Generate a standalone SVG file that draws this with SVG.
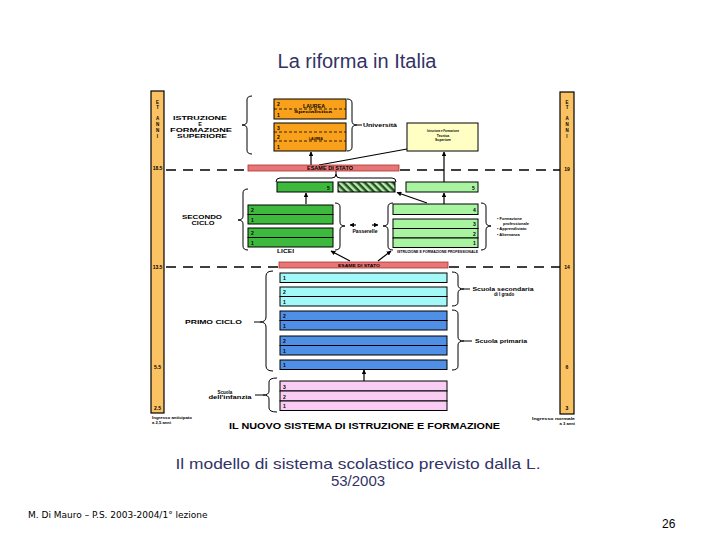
<svg xmlns="http://www.w3.org/2000/svg" width="720" height="540" viewBox="0 0 720 540">
<defs>
<style>
.t{font-family:"Liberation Sans",Arial,sans-serif;font-weight:bold;fill:#000}
.n{font-size:5px}
.s{font-size:4.5px}
.bx{stroke:#000;stroke-width:1}
.dash{stroke:#000;stroke-width:1.6;stroke-dasharray:10 7;fill:none}
.br{fill:none;stroke:#000;stroke-width:1}
.ln{stroke:#000;stroke-width:1.1;fill:none}
.arr{stroke:#000;stroke-width:1.2;fill:none;marker-end:url(#ah)}
.idl{stroke:#000;stroke-width:0.8;stroke-dasharray:3 2}
.or{fill:#F9A11B}
.dg{fill:#3DBA3D}
.lg{fill:#A8F4A0}
.cy{fill:#A3F8F8}
.bl{fill:#4F90E6}
.pk{fill:#F9CDF3}
.rd{fill:#E87676;stroke:#A33;stroke-width:0.8}
.bar{fill:#FBC263;stroke:#000;stroke-width:1.2}
.h{font-family:"Liberation Sans",Arial,sans-serif;fill:#333366}
</style>
<marker id="ah" viewBox="0 0 10 10" refX="9" refY="5" markerWidth="4" markerHeight="4" orient="auto"><path d="M0 0 L10 5 L0 10 z" fill="#000"/></marker>
<pattern id="hatch" width="5" height="5" patternUnits="userSpaceOnUse" patternTransform="rotate(-45)"><rect width="5" height="5" fill="#2B4F2B"/><rect width="2.5" height="5" fill="#B4F0A8"/></pattern>
</defs>
<rect width="720" height="540" fill="#fff"/>

<text class="h" x="357" y="68" font-size="20" text-anchor="middle">La riforma in Italia</text>

<!-- age bars -->
<g id="bar-left">
<rect class="bar" x="151" y="91" width="13" height="322"/>
<text class="t" font-size="4.5" text-anchor="middle"><tspan x="157.5" y="104">E</tspan><tspan x="157.5" y="109">T</tspan><tspan x="157.5" y="120">A</tspan><tspan x="157.5" y="126">N</tspan><tspan x="157.5" y="132">N</tspan><tspan x="157.5" y="138">I</tspan></text>
<text class="t n" x="157.5" y="170" text-anchor="middle">18.5</text>
<text class="t n" x="157.5" y="269" text-anchor="middle">13.5</text>
<text class="t n" x="157.5" y="369" text-anchor="middle">5.5</text>
<text class="t n" x="157.5" y="410" text-anchor="middle">2.5</text>
</g>
<g id="bar-right">
<rect class="bar" x="560" y="92" width="14" height="322"/>
<text class="t" font-size="4.5" text-anchor="middle"><tspan x="567" y="104">E</tspan><tspan x="567" y="109">T</tspan><tspan x="567" y="120">A</tspan><tspan x="567" y="126">N</tspan><tspan x="567" y="132">N</tspan><tspan x="567" y="138">I</tspan></text>
<text class="t n" x="567" y="171" text-anchor="middle">19</text>
<text class="t n" x="567" y="269" text-anchor="middle">14</text>
<text class="t n" x="567" y="369" text-anchor="middle">6</text>
<text class="t n" x="567" y="410" text-anchor="middle">3</text>
</g>

<!-- connectors -->
<g id="connectors">
<line class="dash" x1="166" y1="170" x2="248" y2="170"/>
<line class="dash" x1="400" y1="170" x2="560" y2="170"/>
<line class="dash" x1="166" y1="267" x2="279" y2="267"/>
<line class="dash" x1="449" y1="267" x2="560" y2="267"/>
<path class="br" d="M252 96 Q247 96 247 100 L247 121 Q247 125 242 125 Q247 125 247 129 L247 150 Q247 154 252 154"/>
<path class="br" d="M347 99 Q352 99 352 103 L352 121 Q352 125 357 125 Q352 125 352 129 L352 147 Q352 151 347 151 M357 125 L362 125"/>
<path class="br" d="M276 182 Q276 178 280 178 L332 178 Q336 178 336 174 Q336 178 340 178 L392 178 Q396 178 396 182 M336 174 L336 171"/>
<path class="br" d="M248 189 Q243 189 243 193 L243 216 Q243 220 238 220 Q243 220 243 224 L243 246 Q243 250 248 250"/>
<path class="br" d="M335 203 Q340 203 340 207 L340 222 Q340 226 345 226 Q340 226 340 230 L340 246 Q340 250 335 250"/>
<path class="br" d="M393 203 Q388 203 388 207 L388 222 Q388 226 383 226 Q388 226 388 230 L388 246 Q388 250 393 250"/>
<path class="br" d="M481 203 Q486 203 486 207 L486 222 Q486 226 491 226 Q486 226 486 230 L486 246 Q486 250 481 250"/>
<path class="br" d="M273 271 Q266 271 266 276 L266 317 Q266 322 260 322 Q266 322 266 327 L266 366 Q266 371 273 371 M260 322 L254 322"/>
<path class="br" d="M452 272 Q458 272 458 276 L458 285 Q458 289 464 289 Q458 289 458 293 L458 302 Q458 306 452 306 M464 289 L470 289"/>
<path class="br" d="M452 310 Q458 310 458 314 L458 337 Q458 341 464 341 Q458 341 458 345 L458 366 Q458 370 452 370 M464 341 L472 341"/>
<path class="br" d="M277 378 Q269 378 269 382 L269 391 Q269 395 263 395 Q269 395 269 399 L269 408 Q269 412 277 412 M263 395 L255 395"/>
<line class="arr" x1="311" y1="165" x2="311" y2="152"/>
<line class="ln" x1="319" y1="165" x2="407" y2="149"/>
<line class="arr" x1="444" y1="182" x2="444" y2="152"/>
<line class="arr" x1="306" y1="204" x2="306" y2="193"/>
<line class="arr" x1="444" y1="204" x2="444" y2="193"/>
<line class="arr" x1="427" y1="203" x2="397" y2="192.5"/>
<line class="arr" x1="350" y1="261" x2="331" y2="251"/>
<line class="arr" x1="378" y1="261" x2="391" y2="251"/>
<line class="arr" x1="364" y1="381" x2="364" y2="370"/>
<line class="arr" x1="356" y1="225" x2="350" y2="225"/>
<line class="arr" x1="372" y1="225" x2="378" y2="225"/>
</g>

<!-- superiore -->
<g id="laurea-specialistica">
<rect class="bx or" x="274" y="99" width="72" height="20"/>
<line class="idl" x1="274" y1="109" x2="346" y2="109"/>
<text class="t n" x="277" y="106">2</text>
<text class="t n" x="277" y="117">1</text>
<text class="t" font-size="4.5" x="314" y="107.5" text-anchor="middle" textLength="22" lengthAdjust="spacingAndGlyphs">LAUREA</text>
<text class="t" font-size="3.3" x="313" y="113" text-anchor="middle" textLength="38" lengthAdjust="spacingAndGlyphs">Specialistica</text>
</g>
<g id="laurea">
<rect class="bx or" x="274" y="123" width="72" height="28"/>
<line class="idl" x1="274" y1="132" x2="346" y2="132"/>
<line class="idl" x1="274" y1="141" x2="346" y2="141"/>
<text class="t n" x="277" y="130">3</text>
<text class="t n" x="277" y="139">2</text>
<text class="t n" x="277" y="149">1</text>
<text class="t" font-size="4" x="316" y="139.5" text-anchor="middle" textLength="14" lengthAdjust="spacingAndGlyphs">LAUREA</text>
</g>
<g id="universita"><text class="t" font-size="5" x="363" y="127" textLength="34" lengthAdjust="spacingAndGlyphs">Università</text></g>
<g id="ifts">
<rect class="bx" x="407" y="123" width="71" height="28" fill="#FFFFC4"/>
<text class="t" font-size="3.4" text-anchor="middle"><tspan x="443" y="132" textLength="32" lengthAdjust="spacingAndGlyphs">Istruzione e Formazione</tspan><tspan x="443" y="136.5">Tecnica</tspan><tspan x="443" y="141">Superiore</tspan></text>
</g>
<g id="lab-superiore">
<text class="t" font-size="5.5" text-anchor="middle"><tspan x="200" y="120" textLength="54" lengthAdjust="spacingAndGlyphs">ISTRUZIONE</tspan><tspan x="200" y="126">E</tspan><tspan x="201" y="132" textLength="62" lengthAdjust="spacingAndGlyphs">FORMAZIONE</tspan><tspan x="202" y="137.5" textLength="50" lengthAdjust="spacingAndGlyphs">SUPERIORE</tspan></text>
</g>
<g id="esame-stato-1">
<rect class="rd" x="248" y="165" width="151" height="6"/>
<text class="t" font-size="4.5" x="330" y="169.8" text-anchor="middle" fill="#400" textLength="46" lengthAdjust="spacingAndGlyphs">ESAME DI STATO</text>
</g>

<!-- secondo ciclo -->
<g id="liceo-5"><rect class="bx dg" x="277" y="182" width="56" height="10"/><text class="t n" x="327" y="189.5">5</text></g>
<g id="hatched"><rect class="bx" x="338" y="182" width="57" height="10" fill="url(#hatch)"/></g>
<g id="ifp-5"><rect class="bx lg" x="406" y="182" width="72" height="10"/><text class="t n" x="472" y="189.5">5</text></g>
<g id="licei">
<rect class="bx dg" x="248" y="205" width="85" height="9.5"/>
<rect class="bx dg" x="248" y="214.5" width="85" height="9.5"/>
<rect class="bx dg" x="248" y="228" width="85" height="9.5"/>
<rect class="bx dg" x="248" y="237.5" width="85" height="9.5"/>
<text class="t n" x="251" y="212">2</text>
<text class="t n" x="251" y="221.5">1</text>
<text class="t n" x="251" y="235">2</text>
<text class="t n" x="251" y="244.5">1</text>
<text class="t" font-size="4.5" x="277" y="253" textLength="17" lengthAdjust="spacingAndGlyphs">LICEI</text>
</g>
<g id="ifp">
<rect class="bx lg" x="393" y="204" width="85" height="10.5"/>
<rect class="bx lg" x="393" y="219" width="85" height="9.5"/>
<rect class="bx lg" x="393" y="228.5" width="85" height="9.5"/>
<rect class="bx lg" x="393" y="238" width="85" height="9.5"/>
<text class="t n" x="473" y="211.5">4</text>
<text class="t n" x="473" y="226">3</text>
<text class="t n" x="473" y="235.5">2</text>
<text class="t n" x="473" y="245">1</text>
<text class="t" font-size="4" x="397" y="253" textLength="81" lengthAdjust="spacingAndGlyphs">ISTRUZIONE E FORMAZIONE PROFESSIONALE</text>
</g>
<g id="passerelle"><text class="t" font-size="4.5" x="365" y="232.5" text-anchor="middle" textLength="25" lengthAdjust="spacingAndGlyphs">Passerelle</text></g>
<g id="lab-secondo">
<text class="t" font-size="5.5" text-anchor="middle"><tspan x="202" y="219" textLength="40" lengthAdjust="spacingAndGlyphs">SECONDO</tspan><tspan x="203" y="224.5" textLength="23" lengthAdjust="spacingAndGlyphs">CICLO</tspan></text>
</g>
<g id="lab-formazione">
<text class="t" font-size="4"><tspan x="497" y="220">• Formazione</tspan><tspan x="503" y="224.5">professionale</tspan><tspan x="497" y="230">• Apprendistato</tspan><tspan x="497" y="236">• Alternanza</tspan></text>
</g>
<g id="esame-stato-2">
<rect class="rd" x="279" y="262" width="169" height="6"/>
<text class="t" font-size="4" x="359" y="266.6" text-anchor="middle" fill="#400" textLength="42" lengthAdjust="spacingAndGlyphs">ESAME DI STATO</text>
</g>

<!-- primo ciclo -->
<g id="secondaria">
<rect class="bx cy" x="280" y="273" width="167" height="9.5"/>
<rect class="bx cy" x="280" y="287" width="167" height="9.5"/>
<rect class="bx cy" x="280" y="296.5" width="167" height="9.5"/>
<text class="t n" x="283" y="280">1</text>
<text class="t n" x="283" y="294">2</text>
<text class="t n" x="283" y="303.5">1</text>
</g>
<g id="primaria">
<rect class="bx bl" x="280" y="311" width="167" height="9.5"/>
<rect class="bx bl" x="280" y="320.5" width="167" height="9.5"/>
<rect class="bx bl" x="280" y="336" width="167" height="9.5"/>
<rect class="bx bl" x="280" y="345.5" width="167" height="9.5"/>
<rect class="bx bl" x="280" y="360" width="167" height="9.5"/>
<text class="t n" x="283" y="318">2</text>
<text class="t n" x="283" y="327.5">1</text>
<text class="t n" x="283" y="343">2</text>
<text class="t n" x="283" y="352.5">1</text>
<text class="t n" x="283" y="367">1</text>
</g>
<g id="infanzia">
<rect class="bx pk" x="280" y="381" width="167" height="10"/>
<rect class="bx pk" x="280" y="391" width="167" height="10"/>
<rect class="bx pk" x="280" y="401" width="167" height="9.5"/>
<text class="t n" x="283" y="388.5">3</text>
<text class="t n" x="283" y="398.5">2</text>
<text class="t n" x="283" y="408">1</text>
</g>
<g id="lab-primo"><text class="t" font-size="5.5" x="185" y="324" textLength="57" lengthAdjust="spacingAndGlyphs">PRIMO CICLO</text></g>
<g id="lab-infanzia"><text class="t" font-size="4.5" text-anchor="middle"><tspan x="225" y="393.5">Scuola</tspan><tspan x="230" y="399" textLength="43" lengthAdjust="spacingAndGlyphs">dell'infanzia</tspan></text></g>
<g id="lab-secondaria"><text class="t" font-size="4.5" text-anchor="middle"><tspan x="503" y="291" textLength="61" lengthAdjust="spacingAndGlyphs">Scuola secondaria</tspan><tspan x="504" y="296">di I grado</tspan></text></g>
<g id="lab-primaria"><text class="t" font-size="4.5" x="501" y="342.5" text-anchor="middle" textLength="52" lengthAdjust="spacingAndGlyphs">Scuola primaria</text></g>
<g id="lab-ingresso-l"><text class="t" font-size="4.2"><tspan x="152" y="418.5" textLength="40" lengthAdjust="spacingAndGlyphs">Ingresso anticipato</tspan><tspan x="152" y="423.5">a 2,5 anni</tspan></text></g>
<g id="lab-ingresso-r"><text class="t" font-size="4.2" text-anchor="end"><tspan x="575" y="419.5" textLength="43" lengthAdjust="spacingAndGlyphs">Ingresso normale</tspan><tspan x="575" y="424.5">a 3 anni</tspan></text></g>
<g id="titolo"><text class="t" font-size="8.5" x="229" y="429" fill="#1F2E9E" textLength="271" lengthAdjust="spacingAndGlyphs">IL NUOVO SISTEMA DI ISTRUZIONE E FORMAZIONE</text></g>

<text class="h" font-size="15" x="358" y="469" text-anchor="middle" textLength="365" lengthAdjust="spacingAndGlyphs">Il modello di sistema scolastico previsto dalla L.</text>
<text class="h" font-size="15" x="358" y="486" text-anchor="middle">53/2003</text>
<text x="28" y="518" font-family="DejaVu Sans,Verdana,sans-serif" font-size="9" fill="#000">M. Di Mauro – P.S. 2003-2004/1° lezione</text>
<text x="662" y="528" font-family="Liberation Sans,Arial,sans-serif" font-size="12" fill="#000">26</text>
</svg>
